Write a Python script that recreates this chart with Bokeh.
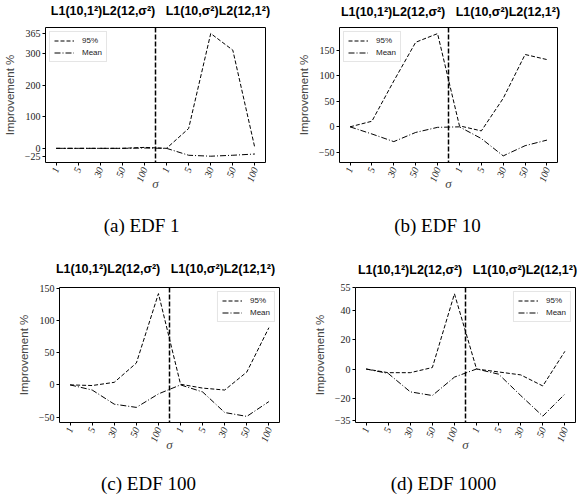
import math
from bokeh.plotting import figure
from bokeh.models import Range1d, FixedTicker, Span, LinearAxis
from bokeh.layouts import row, column
from bokeh.embed import file_html
from bokeh.resources import INLINE

# ---------------- data ----------------
sigma_labels = ["1", "5", "30", "50", "100", "1", "5", "30", "50", "100"]
panel_title = "L1(10,1²)L2(12,σ²)\u00a0 \u00a0L1(10,σ²)L2(12,1²)"
captions = ["(a) EDF 1", "(b) EDF 10", "(c) EDF 100", "(d) EDF 1000"]
series_names = ["95%", "Mean"]

edf1_p95 = [0, 0, 0, 0, 3, 0, 63, 365, 312, 1]
edf1_mean = [0, 0, 0, 0, 1, 0, -22, -25, -22, -18]
edf10_p95 = [0, 11, 90, 166, 183, 2, -8, 56, 142, 132]
edf10_mean = [0, -14, -29, -11, -1, 0, -23, -57, -37, -26]
edf100_p95 = [0, -1, 4, 34, 142, 1, -5, -8, 20, 89]
edf100_mean = [0, -8, -30, -35, -14, 0, -11, -43, -49, -26]
edf1000_p95 = [0, -2.5, -2.5, 1, 51, 0, -2, -4, -11.5, 12]
edf1000_mean = [0, -3, -15.5, -18, -5.5, 0, -3.5, -18, -32, -17]

edf1_yticks = [-25, 0, 100, 200, 300, 365]
edf10_yticks = [-50, 0, 50, 100, 150]
edf100_yticks = [-50, 0, 50, 100, 150]
edf1000_yticks = [-35, -20, 0, 20, 40, 55]

X_PAD = 0.48


def fmt(t):
    return str(t).replace("-", "\u2212")


def text_axis(text, px_center, frame_width, n, standoff, font, size, style):
    """An axis without line or ticks that shows one label (a title or caption)."""
    x0, x1 = -X_PAD, n - 1 + X_PAD
    loc = x0 + px_center / frame_width * (x1 - x0)
    ax = LinearAxis(ticker=FixedTicker(ticks=[loc]))
    ax.major_label_overrides = {loc: text}
    ax.axis_line_color = None
    ax.major_tick_line_color = None
    ax.minor_tick_line_color = None
    ax.major_tick_out = 0
    ax.major_tick_in = 0
    ax.major_label_standoff = standoff
    ax.major_label_text_font = font
    ax.major_label_text_font_size = size
    ax.major_label_text_font_style = style
    ax.major_label_text_color = "black"
    return ax


def make_panel(p95, mean, yticks, yrange, caption, frame, borders, title_cfg, cap_cfg,
               sigma_standoff, legend_loc):
    fw, fh = frame
    mbl, mbr, mbt, mbb = borders
    n = len(sigma_labels)
    xs = list(range(n))
    p = figure(width=mbl + fw + mbr, height=mbt + fh + mbb,
               x_range=Range1d(-X_PAD, n - 1 + X_PAD), y_range=Range1d(*yrange),
               output_backend="svg", toolbar_location=None,
               min_border_left=mbl, min_border_right=mbr,
               min_border_top=mbt, min_border_bottom=mbb)
    p.background_fill_color = "white"
    p.border_fill_color = "white"
    p.outline_line_color = "black"
    p.outline_line_width = 1
    p.xgrid.visible = False
    p.ygrid.visible = False

    p.line(xs, p95, line_color="black", line_width=1, line_dash="4 2", legend_label=series_names[0])
    p.line(xs, mean, line_color="black", line_width=1, line_dash="6 2 1 2", legend_label=series_names[1])

    split = n / 2 - 0.5
    p.add_layout(Span(location=split, dimension="height", line_color="black",
                      line_width=1.5, line_dash="5 2"))

    # x axis
    xa = p.xaxis[0]
    xa.ticker = FixedTicker(ticks=xs)
    xa.major_label_overrides = {i: lab for i, lab in enumerate(sigma_labels)}
    xa.major_label_orientation = math.radians(70)
    xa.major_label_text_font = "Liberation Serif"
    xa.major_label_text_font_style = "italic"
    xa.major_label_text_font_size = "10px"
    xa.major_label_text_color = "#222222"
    xa.major_label_standoff = 2
    xa.axis_label = "σ"
    xa.axis_label_text_font = "Liberation Serif"
    xa.axis_label_text_font_style = "italic"
    xa.axis_label_text_font_size = "13px"
    xa.axis_label_standoff = sigma_standoff

    # y axis
    ya = p.yaxis[0]
    ya.ticker = FixedTicker(ticks=yticks)
    ya.major_label_overrides = {t: fmt(t) for t in yticks}
    ya.major_label_text_font = "Liberation Serif"
    ya.major_label_text_font_size = "10px"
    ya.major_label_text_color = "#222222"
    ya.major_label_standoff = 2
    ya.axis_label = "Improvement %"
    ya.axis_label_text_font = "Liberation Sans"
    ya.axis_label_text_font_style = "normal"
    ya.axis_label_text_font_size = "11.5px"
    ya.axis_label_standoff = 6

    for ax in (xa, ya):
        ax.axis_line_color = None
        ax.major_tick_out = 3
        ax.major_tick_in = 0
        ax.major_tick_line_color = "black"
        ax.minor_tick_line_color = None

    lg = p.legend[0]
    lg.location = legend_loc
    lg.margin = 4
    lg.padding = 4
    lg.spacing = 3
    lg.glyph_width = 20
    lg.glyph_height = 9
    lg.label_height = 9
    lg.label_standoff = 8
    lg.label_text_font = "Liberation Sans"
    lg.label_text_font_size = "8px"
    lg.label_text_color = "#222222"
    lg.border_line_color = "#cccccc"
    lg.border_line_width = 1
    lg.background_fill_alpha = 0.85

    tx, ts = title_cfg
    cx, cs = cap_cfg
    p.add_layout(text_axis(panel_title, tx, fw, n, ts, "Liberation Sans", "12.5px", "bold"), "above")
    p.add_layout(text_axis(caption, cx, fw, n, cs, "Liberation Serif", "19px", "normal"), "below")
    return p


f1 = make_panel(edf1_p95, edf1_mean, edf1_yticks, (-45, 384), captions[0],
                (222, 137), (43, 25, 25, 88), (116, 10), (97, 21), -11, "top_left")
f2 = make_panel(edf10_p95, edf10_mean, edf10_yticks, (-70, 195), captions[1],
                (218, 138), (49, 26, 24, 88), (111, 9), (98, 21), -11, "top_left")
f3 = make_panel(edf100_p95, edf100_mean, edf100_yticks, (-58.5, 151.5), captions[2],
                (220, 136), (59, 11, 37, 78), (106, 12), (89, 18), -10, "top_right")
f4 = make_panel(edf1000_p95, edf1000_mean, edf1000_yticks, (-36.3, 55.3), captions[3],
                (220, 136), (65, 8, 36, 79), (112, 11), (88, 18), -10, "top_right")

layout = column(row(f1, f2), row(f3, f4))

open("out.html", "w").write(file_html(layout, INLINE))
